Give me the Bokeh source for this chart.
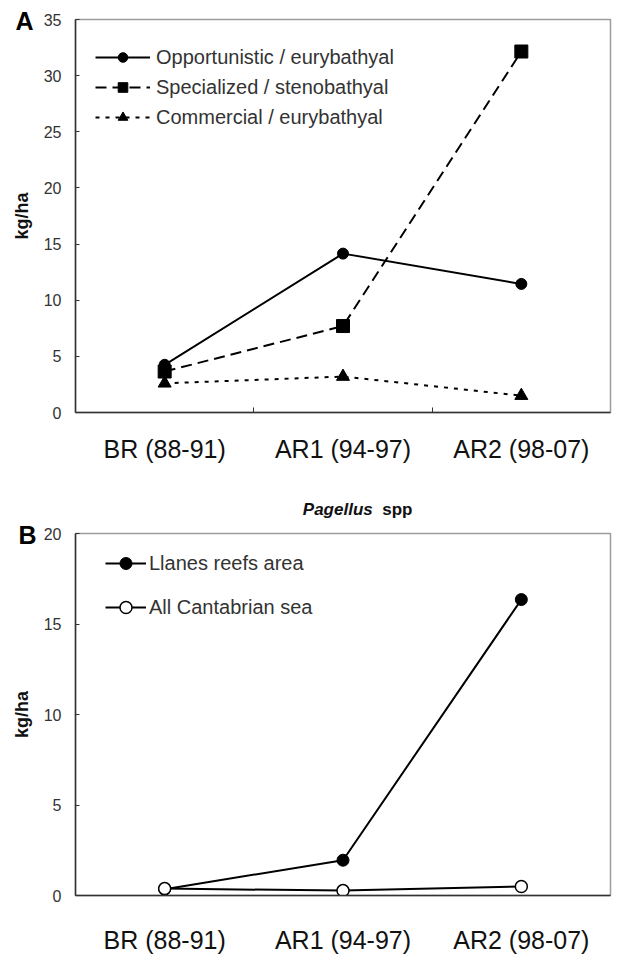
from bokeh.plotting import figure
from bokeh.models import (FactorRange, Range1d, FixedTicker, LinearAxis, CategoricalAxis,
                          Legend, LegendItem, Label, Title)
from bokeh.layouts import column
from bokeh.embed import file_html
from bokeh.resources import INLINE

# ---------------- data ----------------
periods = ["BR (88-91)", "AR1 (94-97)", "AR2 (98-07)"]
opportunistic = [4.25, 14.15, 11.45]
specialized = [3.65, 7.7, 32.15]
commercial = [2.6, 3.2, 1.5]
llanes = [0.35, 1.95, 16.35]
cantabrian = [0.38, 0.27, 0.5]
yticks_a = [0, 5, 10, 15, 20, 25, 30, 35]
yticks_b = [0, 5, 10, 15, 20]

FONT = "Liberation Sans"
AXC = "#333333"


def base_fig(height, top, bottom, left, right, ymax, yticks, tick_axis, xstand):
    p = figure(width=621, height=height, x_range=FactorRange(*periods, range_padding=0),
               y_range=Range1d(0, ymax), output_backend="svg", toolbar_location=None,
               x_axis_location=None, y_axis_location=None, title=None,
               min_border_top=top, min_border_bottom=bottom,
               min_border_left=left, min_border_right=right)
    p.outline_line_color = "#9c9c9c"
    p.outline_line_width = 1.5
    p.background_fill_color = "white"
    p.border_fill_color = "white"
    p.grid.visible = False

    ya = LinearAxis(ticker=FixedTicker(ticks=yticks))
    ya.axis_line_color = AXC
    ya.axis_line_width = 1.5
    ya.major_tick_in = 4
    ya.major_tick_out = 0
    ya.major_tick_line_color = AXC
    ya.minor_tick_line_color = None
    ya.major_label_text_font = FONT
    ya.major_label_text_font_size = "16px"
    ya.major_label_text_color = "#333333"
    ya.major_label_standoff = 14
    ya.axis_label = "kg/ha"
    ya.axis_label_text_font = FONT
    ya.axis_label_text_font_style = "bold"
    ya.axis_label_text_font_size = "18px"
    ya.axis_label_text_color = "#111111"
    ya.axis_label_standoff = 9
    p.add_layout(ya, "left")

    if tick_axis:
        ta = LinearAxis(ticker=FixedTicker(ticks=[1, 2]))
        ta.major_label_overrides = {1: "", 2: ""}
        ta.major_label_text_font_size = "1px"
        ta.major_label_standoff = 0
        ta.axis_line_color = AXC
        ta.axis_line_width = 1.5
        ta.major_tick_in = 5
        ta.major_tick_out = 0
        ta.major_tick_line_color = AXC
        ta.minor_tick_line_color = None
        p.add_layout(ta, "below")

    xa = CategoricalAxis()
    xa.axis_line_color = None if tick_axis else AXC
    xa.axis_line_width = 1.5
    xa.major_tick_line_color = None
    xa.minor_tick_line_color = None
    xa.major_label_text_font = FONT
    xa.major_label_text_font_size = "25px"
    xa.major_label_text_color = "#111111"
    xa.major_label_standoff = xstand
    p.add_layout(xa, "below")
    return p


# ---------------- panel A ----------------
pa = base_fig(480, 19, 68, 75, 3, 35, yticks_a, True, 16)

l1 = pa.line(periods, opportunistic, line_color="black", line_width=2)
s1 = pa.scatter(periods, opportunistic, marker="circle", size=11, color="black")
l2 = pa.line(periods, specialized, line_color="black", line_width=2, line_dash="11 6")
s2 = pa.scatter(periods, specialized, marker="square", size=13, color="black")
l3 = pa.line(periods, commercial, line_color="black", line_width=2, line_dash="4 6")
s3 = pa.scatter(periods, commercial, marker="triangle", size=13, color="black")

leg_a = Legend(items=[
    LegendItem(label="Opportunistic / eurybathyal", renderers=[l1, s1]),
    LegendItem(label="Specialized / stenobathyal", renderers=[l2, s2]),
    LegendItem(label="Commercial / eurybathyal", renderers=[l3, s3]),
], location=(20, 283))
leg_a.border_line_color = None
leg_a.background_fill_alpha = 0
leg_a.padding = 0
leg_a.margin = 0
leg_a.spacing = 6
leg_a.glyph_width = 55
leg_a.glyph_height = 24
leg_a.label_height = 24
leg_a.label_standoff = 6
leg_a.label_text_font = FONT
leg_a.label_text_font_size = "20px"
leg_a.label_text_color = "#333333"
pa.add_layout(leg_a)

pa.add_layout(Title(text="A", align="left", offset=-60, standoff=-31, vertical_align="bottom",
                    text_font=FONT, text_font_style="bold", text_font_size="25px",
                    text_color="black"), "above")

# ---------------- title row ----------------
pt = figure(width=621, height=40, x_range=Range1d(0, 621), y_range=Range1d(0, 40),
            output_backend="svg", toolbar_location=None, x_axis_location=None,
            y_axis_location=None, title=None, min_border=0)
pt.outline_line_color = None
pt.grid.visible = False
pt.add_layout(Label(x=345, y=11, text="Pagellus", text_font=FONT,
                    text_font_style="bold italic", text_font_size="17px", text_color="#111111",
                    text_align="right", text_baseline="alphabetic"))
pt.add_layout(Label(x=356, y=11, text="spp", text_font=FONT,
                    text_font_style="bold", text_font_size="17px", text_color="#111111",
                    text_align="left", text_baseline="alphabetic"))

# ---------------- panel B ----------------
pb = base_fig(436, 13, 53, 70, 11, 20, yticks_b, False, 24)

m1 = pb.line(periods, llanes, line_color="black", line_width=2)
t1 = pb.scatter(periods, llanes, marker="circle", size=12, color="black")
m2 = pb.line(periods, cantabrian, line_color="black", line_width=2)
t2 = pb.scatter(periods, cantabrian, marker="circle", size=12, fill_color="white",
                line_color="black", line_width=1.5)

leg_b = Legend(items=[
    LegendItem(label="Llanes reefs area", renderers=[m1, t1]),
    LegendItem(label="All Cantabrian sea", renderers=[m2, t2]),
], location=(30, 273))
leg_b.border_line_color = None
leg_b.background_fill_alpha = 0
leg_b.padding = 0
leg_b.margin = 0
leg_b.spacing = 14
leg_b.glyph_width = 41
leg_b.glyph_height = 30
leg_b.label_height = 30
leg_b.label_standoff = 3
leg_b.label_text_font = FONT
leg_b.label_text_font_size = "20px"
leg_b.label_text_color = "#333333"
pb.add_layout(leg_b)

pb.add_layout(Title(text="B", align="left", offset=-57, standoff=-30, vertical_align="bottom",
                    text_font=FONT, text_font_style="bold", text_font_size="25px",
                    text_color="black"), "above")

layout = column(pa, pt, pb)
open("out.html", "w").write(file_html(layout, INLINE))
